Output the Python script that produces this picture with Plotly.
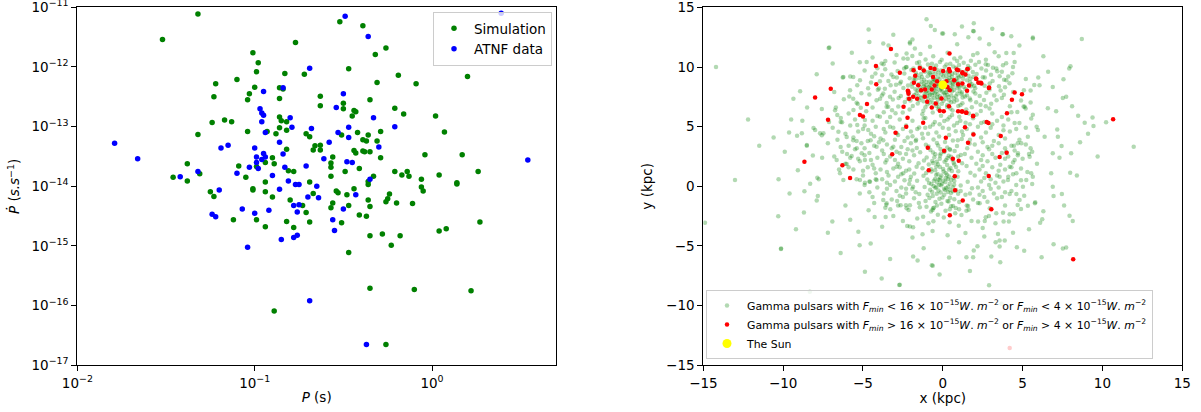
import plotly.graph_objects as go

# ---------------- Left panel: P vs Pdot (log10 values) ----------------
sim_logP = [-1.52,-0.77,-1.01,-0.98,-0.99,-0.83,-0.72,-1.22,-1.10,-1.00,-0.86,-0.84,-1.03,-1.23,-1.04,-0.86,-0.63,-0.50,-0.63,-0.50,
            -0.47,-0.86,-0.85,-0.82,-1.17,-1.13,-1.24,-0.86,-0.82,-1.04,-0.93,-0.88,-1.32,-0.71,-0.69,-0.51,-0.66,-0.63,-0.67,-0.63,
            -0.82,-0.56,-0.90,-0.94,-0.89,-1.09,-0.99,-0.57,-0.57,-1.38,-1.31,-1.46,-1.38,-1.05,-0.81,-0.78,-0.57,-0.49,-0.94,-0.69,
            -1.01,-1.01,-0.94,-1.25,-1.23,-0.90,-0.67,-0.54,-0.53,-0.48,-0.80,-0.73,-0.56,-0.57,-0.71,-1.12,-0.99,-0.82,-0.69,-0.51,
            -0.94,-0.78,-0.47,-0.52,-0.39,-0.26,-0.32,-0.19,-0.31,-0.09,0.20,-0.35,-0.44,-0.43,-0.45,-0.21,-0.16,0.02,-0.29,-0.42,
            -0.36,-0.39,-0.37,-0.31,0.07,-0.44,-0.43,-0.39,-0.38,-0.35,-0.29,-0.04,0.17,-0.41,-0.21,-0.17,-0.14,-0.13,0.04,0.26,
            -0.33,-0.36,-0.36,-0.06,-0.06,-0.05,0.14,0.14,-0.44,-0.24,-0.25,-0.26,-0.36,-0.20,-0.11,-0.35,-0.41,-0.37,0.27,0.04,
            0.08,-0.35,-0.28,-0.18,-0.23,-1.32,-0.89,-0.47,-0.35,-0.10,0.22,-0.26]
sim_logPdot = [-11.54,-11.59,-11.76,-11.93,-12.08,-12.11,-12.12,-12.28,-12.21,-12.34,-12.35,-12.37,-12.45,-12.50,-12.55,-12.53,-12.49,-12.61,-12.65,-12.70,
               -12.03,-12.84,-12.90,-12.92,-12.89,-12.92,-12.93,-13.02,-13.06,-13.08,-13.08,-13.12,-13.13,-13.12,-13.17,-13.14,-13.32,-13.31,-13.39,-13.39,
               -13.38,-13.51,-13.52,-13.60,-13.62,-13.66,-13.67,-13.61,-13.68,-13.62,-13.79,-13.85,-13.91,-13.85,-13.74,-13.75,-13.83,-13.75,-13.93,-13.93,
               -14.04,-14.06,-14.09,-14.09,-14.17,-14.18,-14.12,-14.08,-14.11,-14.14,-14.23,-14.32,-14.28,-14.36,-14.44,-14.56,-14.56,-14.59,-14.60,-14.61,
               -14.68,-14.69,-14.32,-11.24,-11.31,-11.68,-11.79,-12.14,-12.26,-12.28,-12.16,-12.55,-12.73,-12.75,-12.82,-12.69,-12.79,-12.82,-13.08,-13.10,
               -13.14,-13.22,-13.24,-13.24,-13.09,-13.40,-13.44,-13.41,-13.42,-13.42,-13.52,-13.47,-13.47,-13.70,-13.75,-13.81,-13.75,-13.83,-13.81,-13.75,
               -13.83,-13.97,-13.92,-13.88,-14.01,-14.08,-13.94,-13.96,-14.04,-14.13,-14.21,-14.26,-14.23,-14.28,-14.29,-14.34,-14.48,-14.50,-14.60,-14.75,
               -14.71,-14.83,-14.80,-14.83,-14.99,-11.11,-16.09,-15.11,-15.71,-15.73,-15.75,-16.65]

atnf_logP = [-0.69,-0.95,-0.84,-0.50,-0.54,-0.97,-0.96,-0.95,-0.96,-0.80,-0.79,-0.68,-0.94,-0.53,-0.47,-0.47,-0.86,-0.58,-1.19,-1.15,
             -1.00,-0.84,-0.61,-0.95,-0.94,-0.99,-0.96,-0.99,-0.98,-1.03,-0.48,-0.83,-0.71,-1.32,-1.42,-1.10,-0.90,-0.81,-0.77,-0.75,
             -0.65,-1.20,-0.86,-0.70,-0.64,-0.78,-0.75,-0.76,-1.07,-0.92,-1.00,-1.24,-1.22,-0.50,-0.56,-0.55,-0.78,-0.76,-0.85,-1.04,
             -0.36,-0.33,-0.21,-0.30,-0.45,-0.35,-0.43,-0.49,0.39,0.54,-1.79,-1.66,-0.69,-0.37]
atnf_logPdot = [-12.02,-12.41,-12.35,-12.45,-12.68,-12.70,-12.77,-12.81,-12.92,-12.85,-13.01,-13.03,-13.10,-13.10,-13.01,-13.18,-13.26,-13.26,-13.36,-13.31,
                -13.36,-13.46,-13.54,-13.45,-13.51,-13.51,-13.55,-13.60,-13.70,-13.68,-13.59,-13.68,-13.66,-13.75,-13.84,-13.78,-13.82,-13.91,-13.97,-13.97,
                -14.00,-14.06,-14.05,-14.18,-14.19,-14.32,-14.31,-14.43,-14.38,-14.40,-14.45,-14.47,-14.51,-14.38,-14.56,-14.74,-14.86,-14.82,-14.89,-15.02,
                -11.49,-12.85,-13.00,-13.34,-13.60,-13.88,-14.14,-11.15,-11.10,-13.56,-13.28,-13.54,-15.92,-16.65]

# ---------------- Right panel: positions (kpc) ----------------
faint_outer = [
    (-14.21,10.01),(-13.02,0.53),(-10.29,0.59),(-4.65,13.14),(-7.15,11.6),(-8.94,7.97),(-9.36,7.33),(-9.63,4.52),(-9.13,4.24),(-8.83,4.44),
    (-8.1,4.88),(-7.69,4.44),(-7.58,4.27),(-8.52,3.40),(-8.14,2.59),(-7.56,2.39),(-9.08,1.34),(-8.31,0.22),(-8.67,-0.42),(-7.86,0.72),
    (-7.58,6.49),(-6.75,6.38),(-7.13,5.38),(-6.61,5.97),(-6.39,5.72),(-6.31,5.36),(-6.27,9.12),(-5.81,8.06),(-5.36,8.48),(-5.86,7.53),
    (-5.61,7.33),(-5.33,6.89),(-5.14,6.58),(-6.54,4.57),(-6.02,4.13),(-5.61,3.87),(-5.36,5.13),(-4.88,5.55),(-4.67,4.71),(-4.52,3.85),
    (-4.15,3.31),(-6.65,2.2),(-6.02,1.87),(-5.71,2.54),(-5.39,3.18),(-5.08,2.76),(-4.88,2.2),(-6.44,1.09),(-6.23,0.53),(-5.19,0.53),
    (-4.88,0.3),(-4.56,0.38),(-4.15,0.53),(-7.77,0.59),(-7.83,-0.81),(-4.6,-0.5),(-3.73,-1.15),(-3.52,-1.42),(-4.15,7.22),(-3.73,7.78),
    (-3.31,7.5),(-3.52,6.66),(-3.1,9.17),(-2.69,8.62),(-2.27,10.01),(-2.06,11.97),(-3.94,5.82),(-3.31,4.99),(-2.89,4.44),(-3.73,3.87),
    (-3.1,3.31),(-2.69,2.76),(-3.52,2.2),(-2.89,1.64),(-2.48,1.09),(-2.06,0.53),(-1.64,1.64),(-1.86,-0.03),
    (-14.9,-3.05),(-10.31,-2.51),(-10.13,-5.22),(-8.33,-8.85),(-7.9,-1.2),(-6.92,-2.96),(-5.29,-3.8),(-5.21,-4.94),(-4.52,-4.8),(-4.88,-7.17),
    (-3.83,-7.73),(-2.73,-8.28),(-4.65,-2.01),(-4.27,-2.57),(-3.58,-2.57),(-3.54,-1.54),(-3.29,-1.92),(-2.86,-1.23),(-2.64,-1.59),(-2.31,-1.59),
    (-2.14,-1.98),(-2.06,-1.59),(-2.23,-3.32),(-1.86,-3.43),(-1.86,-5.89),(-1.58,-6.23),(-2.69,-8.26),(-0.63,-6.67),(-1.27,-4.02),(-0.64,-3.74),
    (-2.06,-3.38),(0.39,-5.97),(1.48,-5.94),(1.9,-5.94),(1.02,-4.69),(1.42,-3.91),(1.94,-5.39),(2.17,-5.02),(3.04,-5.89),(3.6,-6.36),
    (3.46,-3.99),(3.31,-4.69),(3.56,-4.55),(3.88,-4.55),(3.56,-5.05),(4.64,-5.1),(6.19,-5.94),(6.94,-4.85),(7.52,-5.22),(7.73,-5.14),
    (7.94,-2.46),(8.14,-2.9),(6.23,-2.76),(6.1,-3.05),(4.69,-1.56),(5.33,-1.62),(5.77,-1.42),(3.77,-2.21),(4.19,-2.34),(4.44,-2.34),
    (3.81,-2.96),(4.14,-2.96),(2.31,-1.42),(2.21,-2.96),(2.63,-2.9),(-0.64,-1.98),(-2.27,-1.84),(-1.44,-1.76),(-1.02,-1.71),(-0.61,-1.84),
    (0.44,-1.92),(0.64,-1.65),(1.02,-1.92),(1.48,-2.04),(1.58,-1.65),(2.94,-1.84),(2.89,-2.49),(3.35,-2.26),(2.69,-2.59),(-10.14,-5.25),
    (-0.69,-6.61),(3.67,-9.85),
    (-1.02,14.0),(-0.75,13.44),(-0.04,12.8),(0.75,12.74),(1.94,13.67),(1.94,13.0),(2.31,12.38),(3.73,12.74),(4.29,12.58),(5.64,12.38),
    (8.71,12.35),(-2.06,12.08),(-1.75,11.55),(-2.27,11.13),(2.17,11.15),(3.25,11.24),(3.98,11.18),(4.44,11.18),(4.5,10.43),(3.77,10.15),
    (3.35,9.87),(2.69,10.23),(3.56,9.23),(3.98,8.9),(3.52,8.39),(2.94,8.62),(2.63,9.12),(5.98,9.12),(5.73,8.5),(5.5,8.03),
    (5.08,8.06),(5.13,6.66),(5.5,7.03),(4.67,6.22),(5.06,6.69),(5.19,6.53),(6.58,6.55),(5.64,5.99),(5.88,4.99),(5.96,4.71),
    (7.52,7.41),(7.92,9.87),(8.0,10.07),(7.56,8.98),(8.48,5.91),(8.89,5.32),(9.38,5.77),(9.44,5.05),(10.23,5.36),(11.96,3.31),
    (7.17,4.77),(7.21,4.15),(6.38,4.15),(7.44,3.37),(6.89,2.76),(7.31,2.39),(8.04,2.76),(6.79,1.09),(7.98,1.14),(6.94,-0.81),
    (7.46,-0.64),(4.19,-0.64),(4.61,-0.64),(5.02,-0.03),(5.54,1.09),(5.23,0.53),(4.81,-1.15),(5.79,-1.34),(4.46,3.4),(3.98,2.9),
    (4.5,2.2),(4.19,1.64),(3.56,0.8),(4.08,0.53),(5.54,5.69),(5.33,4.15),(4.92,3.6),(4.71,2.76),(5.44,2.48),
    (-7.11,11.63),(-8.52,3.46),(-8.0,4.71),(-7.48,4.44),(-6.23,9.17),(-5.61,9.17),(-5.19,8.9),(-4.77,10.43),(-3.83,10.29),(-3.73,11.97),
    (0.02,12.8),(1.9,13.02),(3.77,12.74),(5.64,12.47),(6.06,8.48),(6.89,8.33),(7.73,7.5),(4.61,1.09),(5.64,0.8),(6.89,-0.03),
    (-9.5,5.6),(-9.9,2.9),(-8.8,5.5),(-8.5,6.6),(-10.6,4.1),(-7.9,9.4),(-6.9,10.3),(-5.7,11.2),(-4.6,12.1),(-3.1,12.7),
    (-0.5,13.1),(1.2,13.4),(3.1,13.2),(4.8,11.8),(6.3,10.9),(6.6,9.6),(7.1,6.3),(8.1,6.7),(9.1,4.4),(8.6,3.7),
    (9.7,2.5),(8.4,0.9),(7.6,-1.6),(6.3,-2.1),(5.4,-3.6),(4.4,-3.9),(5.1,-5.4),(-6.1,-1.6),(-5.8,-2.8),(-7.2,-3.9),
    (-8.7,-2.2),(-9.6,-0.6),(-9.2,-3.6),(-6.4,-5.6),(-3.3,-6.1),(-0.2,-7.4),(1.7,-7.1),(2.9,-8.3),(-11.5,3.4),(-12.2,5.6),
]

faint_solar = [
    (-1.62,10.34),(-0.93,10.21),(-0.18,10.42),(0.47,10.27),(1.31,10.36),(2.04,10.18),
    (-2.31,9.97),(-1.44,10.06),(-0.57,9.91),(0.12,10.03),(0.83,9.94),(1.58,10.08),(2.42,9.88),
    (-2.83,9.66),(-1.97,9.74),(-1.12,9.61),(-0.38,9.78),(0.31,9.63),(1.04,9.72),(1.88,9.59),(2.71,9.70),
    (-3.22,9.38),(-2.41,9.46),(-1.63,9.33),(-0.82,9.47),(-0.09,9.36),(0.58,9.44),(1.33,9.31),(2.12,9.42),(3.02,9.35),
    (-2.88,9.13),(-2.07,9.05),(-1.31,9.16),(-0.61,9.02),(0.03,9.18),(0.42,9.07),(1.01,9.12),(1.73,9.01),(2.51,9.14),
    (-3.41,8.83),(-2.62,8.77),(-1.82,8.86),(-1.03,8.74),(-0.48,8.88),(-0.12,8.71),(0.33,8.84),(0.79,8.76),(1.52,8.89),(2.23,8.73),(3.12,8.82),
    (-2.93,8.52),(-2.18,8.44),(-1.49,8.57),(-0.78,8.46),(-0.27,8.58),(0.21,8.41),(0.63,8.55),(1.12,8.47),(1.81,8.56),(2.62,8.43),
    (-3.63,8.18),(-2.47,8.23),(-1.71,8.13),(-1.08,8.26),(-0.59,8.14),(-0.07,8.24),(0.39,8.12),(0.91,8.27),(1.42,8.16),(2.03,8.22),(2.93,8.11),
    (-3.02,7.93),(-2.11,7.86),(-1.38,7.97),(-0.87,7.84),(-0.41,7.95),(0.08,7.83),(0.58,7.96),(1.19,7.87),(1.92,7.94),(2.73,7.85),
    (-3.82,7.62),(-2.63,7.57),(-1.79,7.66),(-1.21,7.53),(-0.68,7.64),(-0.17,7.55),(0.28,7.67),(0.82,7.54),(1.51,7.63),(2.31,7.56),(3.22,7.61),
    (-3.13,7.28),(-2.19,7.34),(-1.47,7.22),(-0.93,7.36),(-0.31,7.25),(0.19,7.33),(0.88,7.21),(1.69,7.35),(2.58,7.24),
    (-3.52,6.98),(-2.38,7.06),(-1.57,6.94),(-0.81,7.03),(-0.06,6.92),(0.52,7.05),(1.23,6.96),(2.09,7.04),(3.03,6.93),
    (-2.79,6.68),(-1.88,6.74),(-1.09,6.63),(-0.42,6.76),(0.27,6.64),(0.97,6.73),(1.82,6.62),(2.69,6.71),
    (-3.18,6.38),(-2.08,6.44),(-1.22,6.33),(-0.28,6.46),(0.61,6.35),(1.47,6.43),(2.38,6.31),
    (-0.72,8.63),(-0.21,8.97),(0.14,8.36),(-0.43,8.19),(0.52,8.92),(-1.21,8.58),(-0.95,9.22),(0.71,8.07),(-0.33,7.71),(0.06,9.52),
    (-1.58,8.04),(1.08,8.68),(-0.64,9.61),(0.36,7.48),(-1.36,7.42),(0.95,9.31),(-0.18,8.06),(-0.86,8.33),(0.44,8.61),(-0.02,7.92),
    (-1.37,9.41),(-0.74,9.33),(0.21,9.27),(0.77,9.49),(1.27,9.02),(-1.18,8.94),(-0.31,9.14),(0.61,8.71),(1.33,8.33),(-1.43,8.31),
    (-0.97,8.02),(-0.26,8.38),(0.49,8.21),(1.17,7.71),(-1.13,7.74),(-0.52,7.43),(0.13,7.66),(0.69,7.38),(-0.84,8.77),(0.09,8.79),
    (-0.11,9.71),(-1.69,9.52),(1.61,9.26),(-1.92,8.34),(1.76,8.38),(-1.65,7.79),(1.39,7.52),(-0.47,9.41),(0.34,9.59),(-0.63,7.84),
    (0.93,8.44),(-1.02,8.47),(0.27,8.07),(-0.38,8.62),(0.58,9.19),(-0.81,7.67),(1.06,7.99),(-0.15,7.37),(0.41,7.21),(-0.58,6.98),
    (-1.77,9.12),(-1.26,9.83),(-0.42,10.12),(0.66,10.05),(1.47,9.67),(1.92,9.18),(-1.94,8.62),(-1.52,7.58),(-0.96,6.87),(-0.24,6.61),
    (0.47,6.52),(1.11,6.82),(1.73,7.21),(2.04,7.78),(1.97,8.42),(-2.03,7.19),(-0.68,10.28),(0.23,10.22),(1.02,10.16),(-1.48,10.41),
    (-0.89,9.58),(-0.27,9.52),(0.42,9.36),(1.13,9.24),(-1.47,9.08),(-0.55,8.98),(0.26,8.96),(0.86,9.03),(-1.31,8.76),(-0.62,8.74),
    (0.12,8.57),(0.87,8.82),(-1.19,8.39),(-0.46,8.37),(0.33,8.29),(1.05,8.33),(-1.28,8.12),(-0.79,8.21),(-0.11,8.15),(0.62,8.36),
    (-1.06,7.92),(-0.51,7.79),(0.21,7.88),(0.91,7.76),(-0.98,7.58),(-0.36,7.51),(0.53,7.61),(1.24,7.45),(-0.71,7.27),(0.04,7.17),
    (0.71,7.09),(-1.21,7.12),(-0.33,6.91),(0.28,6.82),(-1.71,8.95),(1.71,8.71),(-1.84,9.88),(1.68,9.91),(-0.07,10.6),(0.9,10.5),
    (-3.61,9.82),(-3.02,10.37),(-2.47,10.71),(-1.08,10.63),(0.72,10.71),(1.76,10.52),(2.83,10.17),(3.41,9.64),(3.84,8.94),(3.62,8.04),
    (3.37,7.22),(2.93,6.52),(2.12,6.02),(1.03,5.83),(-0.11,5.91),(-1.28,6.03),(-2.51,6.18),(-3.42,6.67),(-3.93,7.34),(-4.07,8.09),
    (-3.94,8.81),(-4.22,9.46),(-3.27,8.47),(-2.77,7.41),(-2.42,9.87),(2.27,10.42),(3.14,9.93),(2.36,6.83),(3.83,7.68),(-3.71,10.23),
    (-2.96,6.12),(1.64,6.11),(-0.63,6.18),(0.42,5.78),(4.18,8.63),(-4.43,9.18),(4.36,9.47),(-4.68,8.21),(3.97,10.31),(-1.91,10.92),
    (-5.2,10.4),(-4.4,10.8),(-3.6,10.5),(-2.9,11.0),(-2.2,10.7),(-1.4,11.1),(-0.6,10.9),(0.3,11.2),(1.1,10.8),(1.9,11.0),
    (2.7,10.6),(3.5,10.9),(-4.9,9.7),(-4.1,9.9),(-3.8,9.3),(3.7,9.6),(4.4,10.0),(4.1,9.2),(-4.5,8.7),(-4.0,8.2),
    (-4.6,7.7),(3.9,8.3),(4.4,7.9),(3.7,7.4),(-0.8,11.7),(0.9,11.9),(-1.9,12.3),(1.6,12.5),(-3.4,11.8),(2.9,11.9),
    (-5.8,9.2),(5.2,9.0),(-5.4,7.0),(4.9,7.2),(-4.4,6.6),(4.2,6.7),
]

faint_centre = [
    (-0.12,0.08),(0.21,-0.15),(-0.35,0.31),(0.44,0.22),(0.03,0.47),(-0.27,-0.36),(0.31,-0.48),(-0.58,0.02),(0.62,-0.07),(0.09,-0.71),
    (-0.16,0.74),(0.38,0.83),(-0.48,0.61),(0.72,0.44),(-0.79,-0.28),(0.84,-0.33),(0.18,1.12),(-0.33,1.03),(0.57,1.28),(-0.71,1.24),
    (0.02,1.46),(-0.21,-1.04),(0.46,-0.97),(-0.63,-0.81),(0.93,0.81),(-0.97,0.58),(1.12,0.07),(-1.14,-0.06),
    (0.27,1.78),(-0.41,1.67),(0.83,1.61),(-0.88,1.82),(0.11,2.06),(-0.19,2.31),(0.61,2.22),(-0.66,2.13),(1.21,1.93),(-1.27,1.52),
    (0.37,2.57),(-0.47,2.68),(0.96,2.49),(-1.01,2.42),(0.07,2.87),(0.74,2.96),(-0.78,3.04),(1.38,2.71),(-1.42,2.86),(0.28,3.26),
    (-0.29,3.41),(0.89,3.37),(-1.06,3.48),(1.53,3.18),(-1.63,3.22),(0.14,3.71),(0.63,3.84),(-0.58,3.92),(1.19,3.97),(-1.24,4.03),
    (-0.09,-1.46),(0.52,-1.67),(-0.56,-1.79),(0.17,-2.04),(1.03,-1.32),(-1.08,-1.24),(1.42,-0.71),(-1.47,-0.64),(1.56,0.39),(-1.61,0.47),
    (1.73,1.14),(-1.79,1.07),(-0.31,-2.38),(0.78,-2.26),(1.83,-0.16),(-1.91,-0.21),
    (-0.92,4.41),(0.81,4.62),(-0.23,4.18),(0.37,4.83),(-1.48,4.92),(1.27,4.31),(-0.61,5.18),(0.09,5.47),(1.43,5.32),(-1.09,5.73),
    (0.58,5.98),(-0.37,3.63),(0.94,3.86),(-0.89,3.33),(0.46,3.07),(-1.67,3.91),(1.68,3.59),(-0.13,2.74),(0.29,2.38),(-0.53,2.44),
    (1.13,2.63),(-1.18,2.17),(0.68,1.97),(-0.31,1.84),(1.49,1.71),(-1.52,1.94),(0.48,1.54),(-0.74,1.43),(0.97,1.27),(-1.04,1.11),
    (0.31,0.61),(-0.42,0.94),(0.67,0.72),(-0.86,0.27),(0.14,-0.31),(-0.47,-0.12),(0.51,-0.56),(-0.19,0.52),(0.96,-0.63),(-0.95,-0.71),
    (0.29,-1.23),(-0.37,-1.61),(0.81,-1.81),(-0.74,-2.11),(0.06,-2.62),(1.17,-2.41),(-1.23,-2.56),(0.43,-3.02),(-0.59,-2.93),(1.62,-1.97),
    (-0.05,0.22),(0.16,0.35),(-0.22,0.12),(0.33,-0.02),(-0.41,-0.09),(0.08,-0.21),(-0.13,-0.52),(0.52,0.53),(-0.56,0.47),(0.26,0.96),
    (-0.09,0.91),(0.42,-0.29),(-0.38,-0.63),(0.71,0.12),(-0.72,0.19),(0.18,0.69),(-0.27,0.58),(0.63,-0.42),(-0.67,-0.47),(0.05,1.24),
    (-0.48,1.35),(0.39,1.41),(-0.18,1.62),(0.72,1.83),(-0.61,1.96),(0.21,2.21),(-0.38,2.06),(0.51,2.47),(-0.17,2.58),(0.12,2.94),
    (-0.61,2.83),(0.43,3.11),(-0.15,3.13),(-0.02,-0.93),(0.36,-1.28),(-0.46,-1.31),(0.72,-1.09),(-0.84,-0.99),(1.12,-0.39),(-1.21,0.89),
]

faint_disc = [
    (-5.9,6.1),(-4.8,6.3),(-4.1,5.9),(-3.7,6.2),(3.1,6.1),(3.7,5.8),(4.3,6.2),
    (-6.4,5.4),(-5.5,5.6),(-4.4,5.5),(-3.5,5.4),(-2.7,5.6),(-1.9,5.5),(-1.2,5.7),(-0.5,5.4),(0.3,5.6),(1.1,5.5),(1.9,5.7),(2.6,5.4),(3.4,5.5),(4.1,5.6),(4.8,5.3),
    (-6.9,4.9),(-5.8,5.1),(-5.0,4.8),(-4.2,5.0),(-3.1,4.9),(-2.3,5.1),(-1.6,4.8),(-0.8,5.0),(0.0,4.9),(0.7,5.1),(1.5,4.8),(2.2,5.0),(3.0,4.9),(3.8,5.1),(4.6,4.8),
    (-6.1,4.4),(-5.3,4.6),(-4.5,4.4),(-3.6,4.5),(-2.8,4.3),(-2.0,4.6),(-1.3,4.4),(-0.4,4.5),(0.4,4.3),(1.2,4.6),(1.9,4.4),(2.7,4.5),(3.5,4.3),(4.2,4.6),
    (-6.6,3.9),(-5.6,4.1),(-4.7,3.8),(-3.9,4.0),(-3.0,3.9),(-2.2,4.1),(-1.7,3.8),(1.7,3.9),(2.4,4.1),(3.2,3.8),(3.9,4.0),(4.8,3.9),
    (-5.9,3.4),(-5.1,3.6),(-4.3,3.4),(-3.5,3.5),(-2.6,3.3),(-2.0,3.6),(2.0,3.5),(2.8,3.3),(3.5,3.6),(4.3,3.4),(5.2,3.5),
    (-6.3,2.9),(-5.5,3.1),(-4.6,2.8),(-3.8,3.0),(-2.9,2.9),(-2.2,3.1),(2.2,2.9),(2.9,3.1),(3.7,2.8),(4.5,3.0),(5.6,2.9),
    (-5.8,2.4),(-4.9,2.6),(-4.1,2.4),(-3.3,2.5),(-2.5,2.3),(-1.8,2.6),(1.8,2.4),(2.5,2.6),(3.3,2.4),(4.1,2.5),(5.0,2.3),
    (-6.1,1.9),(-5.2,2.1),(-4.4,1.8),(-3.6,2.0),(-2.8,1.9),(-2.1,2.1),(2.1,1.9),(2.8,2.1),(3.6,1.8),(4.4,2.0),(5.9,1.9),
    (-5.6,1.4),(-4.7,1.6),(-3.9,1.4),(-3.1,1.5),(-2.3,1.3),(2.3,1.4),(3.1,1.6),(3.9,1.4),(4.9,1.5),
    (-5.0,0.9),(-4.2,1.1),(-3.4,0.9),(-2.6,1.0),(-2.0,0.8),(2.0,0.9),(2.7,1.1),(3.4,0.9),(4.4,1.0),
    (-4.6,0.4),(-3.8,0.6),(-3.0,0.4),(-2.4,0.5),(2.4,0.4),(3.0,0.6),(3.8,0.4),
    (-4.1,-0.1),(-3.3,0.1),(-2.6,-0.1),(-2.1,0.2),(2.2,-0.1),(2.9,0.1),(3.5,-0.1),(4.6,0.1),
    (-3.7,-0.6),(-2.9,-0.4),(-2.3,-0.6),(2.5,-0.4),(3.2,-0.6),(3.9,-0.5),
    (-3.2,-1.1),(-2.5,-0.9),(-1.8,-1.0),(1.9,-1.1),(2.6,-0.9),(3.4,-1.0),
    (-6.7,6.6),(-6.2,7.3),(-5.1,7.8),(-6.8,7.9),(-5.6,6.4),(-4.9,5.1),(-4.3,4.2),(-3.7,4.8),(-3.3,5.8),(-2.5,4.8),
    (-1.9,4.2),(-1.1,4.9),(-0.2,5.2),(0.9,5.3),(1.7,5.2),(2.4,5.3),(3.1,5.2),(3.8,4.7),(4.5,5.3),(5.2,4.9),
    (-7.2,3.6),(-6.4,3.3),(-5.4,3.8),(-4.9,3.2),(-4.0,3.7),(-3.2,3.2),(-2.4,3.8),(-1.9,3.0),(2.5,3.7),(3.1,3.4),
    (3.9,3.2),(4.7,3.6),(5.5,3.2),(-6.8,2.5),(-6.0,2.7),(-5.3,2.3),(-4.5,2.2),(-3.7,2.7),(-3.0,2.2),(-2.3,2.7),
    (2.4,2.2),(3.1,2.7),(3.9,2.3),(4.7,2.6),(5.4,2.7),(-6.5,1.4),(-5.9,1.6),(-5.0,1.3),(-4.3,1.5),(-3.5,1.2),
    (-2.7,1.6),(-2.1,1.4),(2.5,1.7),(3.5,1.3),(4.3,1.6),(5.3,1.2),(-5.4,0.6),(-4.9,0.1),(-4.2,0.6),(-3.5,0.3),
    (-2.8,0.8),(-2.3,-0.2),(2.6,0.7),(3.3,0.3),(4.1,0.8),(4.9,0.5),(5.6,0.2),(-5.2,-0.6),(-4.4,-0.9),(-3.5,-0.2),
    (-2.7,-0.8),(-1.7,-0.5),(1.7,-0.6),(2.3,-0.7),(3.0,-0.2),(3.7,-0.9),(4.3,-0.4),(5.1,-0.8),(-4.3,-1.4),(-3.6,-1.8),
    (-2.8,-1.6),(-1.5,-1.4),(1.5,-1.6),(2.2,-1.4),(2.8,-1.3),(3.9,-1.6),(4.9,-1.9),(-3.1,-2.5),(-2.5,-2.9),(-1.6,-2.7),
    (-0.9,-3.1),(1.0,-3.3),(1.8,-2.9),(2.5,-3.5),(3.3,-3.1),(-3.8,-3.4),(-1.9,-4.3),(0.3,-4.1),(2.6,-4.2),(-1.2,-5.2),
]

bright_pulsars = [
    (-3.25,11.51),(0.42,11.13),(-4.19,10.09),(-7.02,8.17),(-8.0,7.45),(-4.17,8.56),(-2.69,9.51),(-4.75,6.89),(-5.19,5.97),(-5.0,5.86),
    (-7.19,5.57),(-2.46,6.66),(-2.21,5.74),(-2.29,4.99),(-2.96,4.49),(-1.23,5.32),(-3.17,2.68),(-0.94,3.23),(0.19,4.07),(0.08,2.98),
    (0.63,2.31),(1.0,2.14),(-0.88,1.34),(0.75,0.84),(0.77,-0.33),(-6.29,1.76),(-5.81,0.69),(-8.67,2.06),(2.88,0.86),(3.56,2.45),
    (4.0,2.81),(1.58,3.65),(1.92,4.35),(1.39,4.94),(3.63,4.21),(2.75,5.38),(2.86,5.30),(4.02,6.13),(1.9,5.88),(1.19,6.28),
    (1.46,6.16),(4.33,7.25),(4.5,7.87),(4.96,7.72),(2.9,8.28),(2.23,8.67),(2.42,8.62),(1.56,9.84),(2.08,9.04),(1.42,9.37),
    (1.23,9.56),(0.88,9.79),(-1.83,9.73),(-1.73,9.26),(-1.44,9.92),(-1.19,9.71),(-0.77,9.92),(-0.52,9.84),(0.02,9.67),(0.39,9.84),
    (0.44,9.65),(0.96,9.73),(1.23,9.48),(1.54,9.84),(-1.81,8.67),(-1.54,8.48),(-1.36,8.06),(-1.11,8.12),(-0.61,9.17),(-0.36,8.81),
    (-0.52,8.45),(-0.69,8.12),(0.23,8.81),(0.29,8.33),(0.44,8.06),(0.71,8.9),(0.96,8.56),(1.23,8.62),(1.52,8.0),(1.64,8.45),
    (2.1,9.0),(2.38,8.67),(2.89,8.23),(-2.17,7.95),(-2.11,7.33),(-1.86,7.5),(-1.61,7.33),(-1.13,7.5),(-0.98,7.08),(-0.69,6.61),
    (-0.44,6.95),(-0.08,7.36),(0.06,6.3),(-0.19,6.33),(0.39,6.72),(0.96,6.3),(1.23,6.28),(1.48,6.16),(1.9,5.91),(1.25,-1.2),
    (10.67,5.63),(0.44,-2.43),(3.04,-1.92),(8.17,-6.11),(-2.19,8.0),(-2.15,7.75),(4.19,-13.56),
]
sun_position = [(0.0, 8.5)]

faint_pulsars = faint_outer + faint_solar + faint_centre + faint_disc

legend_faint = ("Gamma pulsars with <i>F<sub>min</sub></i> &lt; 16 × 10<sup>−15</sup><i>W</i>. <i>m</i><sup>−2</sup>"
                " or <i>F<sub>min</sub></i> &lt; 4 × 10<sup>−15</sup><i>W</i>. <i>m</i><sup>−2</sup>")
legend_bright = ("Gamma pulsars with <i>F<sub>min</sub></i> &gt; 16 × 10<sup>−15</sup><i>W</i>. <i>m</i><sup>−2</sup>"
                 " or <i>F<sub>min</sub></i> &gt; 4 × 10<sup>−15</sup><i>W</i>. <i>m</i><sup>−2</sup>")

# minor tick positions for the log axes (matplotlib-style 2..9 x 10^n)
minor_x = [k * 10.0 ** e for e in (-2, -1, 0) for k in range(2, 10) if k * 10.0 ** e < 4.99]
minor_y = [k * 10.0 ** e for e in range(-17, -11) for k in range(2, 10)]

FONT = "DejaVu Sans"
fig = go.Figure()

fig.add_trace(go.Scatter(x=[10**v for v in sim_logP], y=[10**v for v in sim_logPdot], mode="markers",
                         marker=dict(color="#008000", size=5.5, line=dict(width=0)), name="Simulation",
                         xaxis="x", yaxis="y", legend="legend"))
fig.add_trace(go.Scatter(x=[10**v for v in atnf_logP], y=[10**v for v in atnf_logPdot], mode="markers",
                         marker=dict(color="#0000ff", size=5.5, line=dict(width=0)), name="ATNF data",
                         xaxis="x", yaxis="y", legend="legend"))

fig.add_trace(go.Scatter(x=[p[0] for p in faint_pulsars], y=[p[1] for p in faint_pulsars], mode="markers",
                         marker=dict(color="rgba(0,128,0,0.3)", size=4.5, line=dict(width=0)), name=legend_faint,
                         xaxis="x2", yaxis="y2", legend="legend2"))
fig.add_trace(go.Scatter(x=[p[0] for p in bright_pulsars], y=[p[1] for p in bright_pulsars], mode="markers",
                         marker=dict(color="#ff0000", size=4.5, line=dict(width=0)), name=legend_bright,
                         xaxis="x2", yaxis="y2", legend="legend2"))
fig.add_trace(go.Scatter(x=[p[0] for p in sun_position], y=[p[1] for p in sun_position], mode="markers",
                         marker=dict(color="#ffff00", size=9, line=dict(width=0)), name="The Sun",
                         xaxis="x2", yaxis="y2", legend="legend2"))

xdom1 = [77.3 / 1201, 556 / 1201]
ydom = [1 - 365.3 / 412, 1 - 7.3 / 412]
xrange1 = [-2.0003, 0.699]
yrange1 = [-17.0003, -10.9997]
axis_common = dict(showline=True, mirror=True, linecolor="black", linewidth=1, ticks="outside",
                   ticklen=5, tickcolor="black", tickwidth=1, showgrid=False, zeroline=False, automargin=False,
                   ticklabeloverflow="allow", tickfont=dict(family=FONT, size=13.5, color="black"))
minor_common = dict(showline=False, showgrid=False, zeroline=False, automargin=False, ticks="outside",
                    ticklen=3, tickcolor="black", tickwidth=0.8, showticklabels=False, type="log")

fig.update_layout(
    width=1201, height=412, margin=dict(l=0, r=0, t=0, b=0),
    paper_bgcolor="white", plot_bgcolor="white", font=dict(family=FONT, color="black"),
    xaxis=dict(domain=xdom1, type="log", range=xrange1,
               tickvals=[1e-2, 1e-1, 1], ticktext=["10<sup>−2</sup>", "10<sup>−1</sup>", "10<sup>0</sup>"],
               title=dict(text="<i>P</i> (s)", font=dict(family=FONT, size=13.5), standoff=3),
               anchor="y", **axis_common),
    yaxis=dict(domain=ydom, type="log", range=yrange1,
               tickvals=[1e-17, 1e-16, 1e-15, 1e-14, 1e-13, 1e-12, 1e-11],
               ticktext=["10<sup>−17</sup>", "10<sup>−16</sup>", "10<sup>−15</sup>", "10<sup>−14</sup>",
                         "10<sup>−13</sup>", "10<sup>−12</sup>", "10<sup>−11</sup>"],
               title=dict(text="<i>Ṗ</i> (<i>s.s</i><sup>−1</sup>)", font=dict(family=FONT, size=13.5), standoff=8),
               anchor="x", **axis_common),
    xaxis3=dict(domain=xdom1, range=xrange1, overlaying="x", anchor="y", side="bottom",
                tickvals=minor_x, **minor_common),
    yaxis3=dict(domain=ydom, range=yrange1, overlaying="y", anchor="x", side="left",
                tickvals=minor_y, **minor_common),
    xaxis2=dict(domain=[703.3 / 1201, 1182.3 / 1201], range=[-15.005, 15.005], tickvals=[-15, -10, -5, 0, 5, 10, 15],
                title=dict(text="x (kpc)", font=dict(family=FONT, size=13.5), standoff=3),
                anchor="y2", **axis_common),
    yaxis2=dict(domain=ydom, range=[-15.005, 15.005], tickvals=[-15, -10, -5, 0, 5, 10, 15],
                title=dict(text="y (kpc)", font=dict(family=FONT, size=13.5), standoff=10),
                anchor="x2", **axis_common),
    legend=dict(x=552 / 1201, y=1 - 12 / 412, xanchor="right", yanchor="top",
                bgcolor="rgba(255,255,255,0.8)", bordercolor="#cccccc", borderwidth=1,
                font=dict(family=FONT, size=13.5), itemsizing="trace", tracegroupgap=0),
    legend2=dict(x=706 / 1201, y=1 - 359 / 412, xanchor="left", yanchor="bottom",
                 bgcolor="rgba(255,255,255,0.8)", bordercolor="#cccccc", borderwidth=1,
                 font=dict(family=FONT, size=10.9), itemsizing="trace", itemwidth=30, tracegroupgap=0),
    showlegend=True,
)

fig.write_html("out.html", config={"displayModeBar": False},
               post_script="document.body.style.margin='0px';")
